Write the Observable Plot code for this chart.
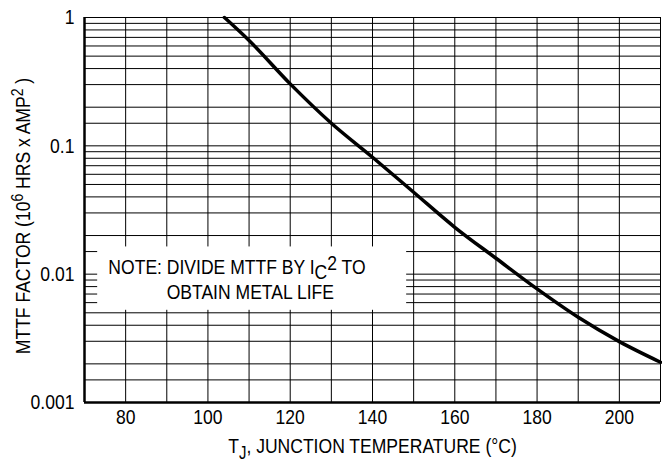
<!DOCTYPE html>
<html>
<head>
<meta charset="utf-8">
<script src="https://cdn.jsdelivr.net/npm/d3@7"></script>
<script src="https://cdn.jsdelivr.net/npm/@observablehq/plot@0.6"></script>
<style>
  html, body { margin: 0; padding: 0; background: white; }
</style>
</head>
<body>
<div id="chart"></div>
<script>
// Curve data
const temps = [104, 110, 120, 130, 140, 150, 160, 170, 180, 190, 200, 210];
const mttf  = [1.0, 0.662, 0.304, 0.150, 0.0815, 0.0435, 0.0232, 0.0133, 0.00767, 0.00461, 0.00298, 0.00206];

// Axis ticks and labels
const xTicks = [80, 100, 120, 140, 160, 180, 200];
const yTicks = [1, 0.1, 0.01, 0.001];
const yTickLabels = ["1", "0.1", "0.01", "0.001"];

// Grid
const xGrid = [80, 90, 100, 110, 120, 130, 140, 150, 160, 170, 180, 190, 200, 210];
const decades = [0.001, 0.01, 0.1];
const mantissas = [1, 1.5, 2, 3, 4, 5, 6, 7, 8, 9];
const yGrid = decades.flatMap(d => mantissas.map(m => +(m * d).toPrecision(3))).concat([1]);

// Note box (data units)
const noteBox = [{x1: 73.2, x2: 148.3, y1: 0.00523, y2: 0.0163}];
const noteLine1 = [{x: 75.8, y: 0.0100, t: "NOTE1"}];
const noteLine2 = [{x: 110.3, y: 0.00642, t: "OBTAIN METAL LIFE"}];

const FONT = "'Liberation Sans', Arial, Helvetica, sans-serif";
const NARROW = 0.835;

const data = temps.map((t, i) => ({t, v: mttf[i]}));

const plot = Plot.plot({
  width: 662,
  height: 464,
  marginLeft: 84,
  marginRight: 2,
  marginTop: 17,
  marginBottom: 62,
  style: {fontFamily: FONT, fontSize: "21px", background: "white", color: "black"},
  x: {domain: [70, 210]},
  y: {type: "log", domain: [0.001, 1]},
  marks: [
    Plot.ruleX(xGrid, {stroke: "black", strokeWidth: 1}),
    Plot.ruleY(yGrid, {stroke: "black", strokeWidth: 1}),
    Plot.rect(noteBox, {x1: "x1", x2: "x2", y1: "y1", y2: "y2", fill: "white"}),
    Plot.ruleX([70], {stroke: "black", strokeWidth: 2.5}),
    Plot.ruleY([0.001], {stroke: "black", strokeWidth: 2.5}),
    Plot.line(data, {x: "t", y: "v", curve: "monotone-x", stroke: "black", strokeWidth: 3.5}),
    Plot.text(noteLine1, {x: "x", y: "y", text: "t", textAnchor: "start", lineAnchor: "bottom", fill: "black"}),
    Plot.text(noteLine2, {x: "x", y: "y", text: "t", textAnchor: "middle", lineAnchor: "bottom", fill: "black"}),
    Plot.axisY({ticks: yTicks, tickFormat: d => yTickLabels[yTicks.indexOf(d)], tickSize: 0, tickPadding: 10, label: null}),
    Plot.axisX({ticks: xTicks, tickSize: 0, tickPadding: 7, label: null}),
    Plot.text(["XLABEL"], {frameAnchor: "bottom", dy: 50, lineAnchor: "bottom", textAnchor: "middle", fill: "black"}),
    Plot.text(["YLABEL"], {frameAnchor: "left", dx: -61, dy: 6, rotate: -90, textAnchor: "middle", fill: "black"})
  ]
});

document.getElementById("chart").appendChild(plot);

d3.select(plot).selectAll("text").each(function() {
  const s = this.textContent;
  if (s === "NOTE1") {
    this.innerHTML = 'NOTE: DIVIDE MTTF BY I<tspan dy="4.5">C</tspan><tspan dy="-9">2</tspan><tspan dy="4.5"> TO</tspan>';
  } else if (s === "XLABEL") {
    this.innerHTML = 'T<tspan dy="6" font-size="0.85em">J</tspan><tspan dy="-6">, JUNCTION TEMPERATURE (°C)</tspan>';
  } else if (s === "YLABEL") {
    this.innerHTML = 'MTTF FACTOR (10<tspan dy="-7" font-size="0.8em">6</tspan><tspan dy="7"> HRS x AMP</tspan><tspan dy="-7" font-size="0.8em">2</tspan><tspan dy="7"> )</tspan>';
  }
});

// Condense all text to mimic a narrow Helvetica face
d3.select(plot).selectAll("text").each(function() {
  const len = this.getComputedTextLength();
  if (len > 0) {
    this.setAttribute("textLength", (len * NARROW).toFixed(2));
    this.setAttribute("lengthAdjust", "spacingAndGlyphs");
  }
});
</script>
</body>
</html>
